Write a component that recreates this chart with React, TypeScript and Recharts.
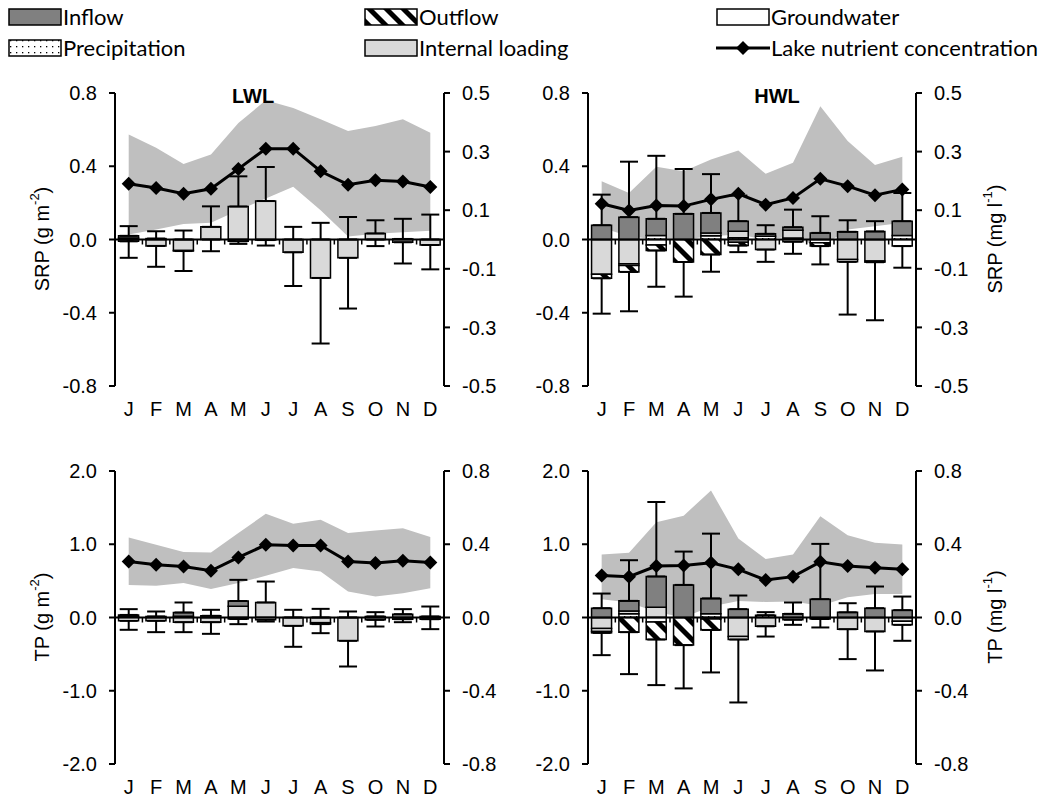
import React from 'react';
import { ComposedChart, Bar, Line, Area, XAxis, YAxis, ErrorBar, ReferenceLine } from 'recharts';

const FONT = "'Liberation Sans', Arial, sans-serif";
const LEGEND_FONT = "Lato, 'Open Sans', sans-serif";

const months = ['Jan', 'Feb', 'Mar', 'Apr', 'May', 'Jun', 'Jul', 'Aug', 'Sep', 'Oct', 'Nov', 'Dec'];
const monthLetters = ['J', 'F', 'M', 'A', 'M', 'J', 'J', 'A', 'S', 'O', 'N', 'D'];

const srpLeftTicks = [-0.8, -0.4, 0, 0.4, 0.8];
const srpRightTicks = [-0.5, -0.3, -0.1, 0.1, 0.3, 0.5];
const tpLeftTicks = [-2, -1, 0, 1, 2];
const tpRightTicks = [-0.8, -0.4, 0, 0.4, 0.8];

// SRP, low water level (LWL)
const srpLwlInflow = [0.012, 0.005, 0, 0, 0, 0, 0, 0, 0, 0, 0.003, 0];
const srpLwlOutflow = [-0.01, 0, -0.003, 0, -0.01, -0.003, 0, 0, 0, 0, 0, 0];
const srpLwlGround = [0, 0, 0, 0, 0, 0, 0, 0, 0, 0, 0, 0];
const srpLwlPrecip = [0, 0, 0, 0, 0, 0, 0, 0, 0, 0, 0, 0];
const srpLwlInternal = [0.008, -0.035, -0.06, 0.069, 0.18, 0.21, -0.07, -0.21, -0.1, 0.033, -0.015, -0.03];
const srpLwlErrHigh = [0.073, 0.045, 0.049, 0.181, 0.345, 0.396, 0.069, 0.091, 0.123, 0.105, 0.113, 0.136];
const srpLwlErrLow = [-0.1, -0.149, -0.172, -0.064, -0.024, -0.033, -0.254, -0.568, -0.377, -0.036, -0.131, -0.163];
const srpLwlBandHigh = [0.358, 0.313, 0.258, 0.29, 0.398, 0.475, 0.449, 0.41, 0.37, 0.387, 0.41, 0.364];
const srpLwlBandLow = [0.017, 0.034, 0.053, 0.057, 0.1, 0.14, 0.18, 0.1, 0.01, 0.02, 0.025, 0.03];
const srpLwlConc = [0.19, 0.176, 0.156, 0.173, 0.241, 0.31, 0.31, 0.233, 0.187, 0.202, 0.198, 0.179];

// SRP, high water level (HWL)
const srpHwlInflow = [0.078, 0.122, 0.091, 0.14, 0.11, 0.055, 0.013, 0.016, 0.036, 0.042, 0.044, 0.078];
const srpHwlOutflow = [-0.022, -0.035, -0.03, -0.123, -0.082, -0.018, 0, 0, -0.018, 0, 0, 0];
const srpHwlGround = [0, -0.01, -0.03, 0, 0, -0.015, 0, -0.012, -0.018, -0.013, -0.006, -0.036];
const srpHwlPrecip = [0, 0, 0.022, 0, 0.02, 0.01, 0.018, 0.008, 0, 0, 0, 0.022];
const srpHwlInternal = [-0.19, -0.132, 0, 0, 0.015, 0.035, -0.055, 0.043, 0, -0.109, -0.118, 0];
const srpHwlErrHigh = [0.245, 0.425, 0.457, 0.385, 0.357, 0.24, 0.078, 0.163, 0.127, 0.105, 0.1, 0.254];
const srpHwlErrLow = [-0.405, -0.392, -0.258, -0.312, -0.176, -0.069, -0.122, -0.078, -0.136, -0.41, -0.441, -0.154];
const srpHwlBandHigh = [0.199, 0.159, 0.248, 0.233, 0.273, 0.304, 0.224, 0.262, 0.455, 0.336, 0.254, 0.282];
const srpHwlBandLow = [0.04, 0.011, 0, 0, 0.011, 0.017, 0, 0.011, -0.028, 0.034, 0.045, 0.057];
const srpHwlConc = [0.122, 0.099, 0.116, 0.114, 0.137, 0.156, 0.119, 0.142, 0.207, 0.182, 0.151, 0.171];

// TP, LWL
const tpLwlInflow = [0.02, 0.014, 0.05, 0.023, 0.07, 0, 0, 0, 0, 0.014, 0.045, 0.014];
const tpLwlOutflow = [0, 0, 0, 0, 0, 0, 0, 0, 0, 0, 0, 0];
const tpLwlGround = [-0.045, 0, 0, 0, -0.02, -0.03, 0, -0.02, 0, 0, 0, 0];
const tpLwlPrecip = [0, 0, 0.018, 0, 0, 0, 0, 0, 0, 0, 0, 0];
const tpLwlInternal = [0.015, -0.045, -0.064, -0.064, 0.155, 0.205, -0.114, -0.07, -0.318, -0.032, -0.023, -0.023];
const tpLwlErrHigh = [0.114, 0.082, 0.205, 0.105, 0.514, 0.491, 0.105, 0.118, 0.082, 0.073, 0.114, 0.15];
const tpLwlErrLow = [-0.168, -0.2, -0.2, -0.223, -0.091, -0.055, -0.4, -0.214, -0.669, -0.123, -0.064, -0.159];
const tpLwlBandHigh = [0.437, 0.397, 0.357, 0.355, 0.461, 0.566, 0.512, 0.534, 0.461, 0.475, 0.488, 0.439];
const tpLwlBandLow = [0.178, 0.173, 0.188, 0.155, 0.188, 0.228, 0.27, 0.251, 0.142, 0.115, 0.133, 0.16];
const tpLwlConc = [0.306, 0.288, 0.279, 0.255, 0.328, 0.397, 0.393, 0.393, 0.306, 0.297, 0.31, 0.3];

// TP, HWL
const tpHwlInflow = [0.127, 0.137, 0.42, 0.445, 0.21, 0.114, 0, 0.05, 0.25, 0.07, 0.127, 0.1];
const tpHwlOutflow = [-0.02, -0.2, -0.24, -0.377, -0.15, 0, 0, 0, 0, 0, 0, 0];
const tpHwlGround = [-0.04, 0, -0.06, 0, -0.02, -0.04, 0, -0.03, -0.02, 0, 0, -0.05];
const tpHwlPrecip = [0, 0.05, 0, 0, 0.05, 0, 0.03, 0, 0, 0, 0, 0];
const tpHwlInternal = [-0.15, 0.04, 0.14, 0, 0, -0.26, -0.12, 0, 0, -0.16, -0.19, -0.05];
const tpHwlErrHigh = [0.327, 0.782, 1.577, 0.9, 1.145, 0.3, 0.073, 0.205, 1.005, 0.195, 0.423, 0.286];
const tpHwlErrLow = [-0.514, -0.773, -0.923, -0.968, -0.75, -1.16, -0.26, -0.1, -0.136, -0.568, -0.723, -0.318];
const tpHwlBandHigh = [0.344, 0.353, 0.52, 0.556, 0.694, 0.431, 0.319, 0.344, 0.553, 0.449, 0.408, 0.399];
const tpHwlBandLow = [0.1, 0.082, 0.03, 0, 0.06, 0.09, 0.085, 0.087, 0.064, 0.11, 0.128, 0.128];
const tpHwlConc = [0.23, 0.223, 0.281, 0.284, 0.299, 0.263, 0.205, 0.223, 0.304, 0.281, 0.272, 0.263];

const COLORS = { inflow: '#808080', internal: '#d9d9d9', band: '#bfbfbf' };

// whiskers are split in an upper part (error top -> stack top) and a lower part
// (stack bottom -> error bottom) so they do not cross the bars
function buildRows(s: any) {
  return months.map((m, i) => {
    const parts = [s.precip[i], s.internal[i], s.ground[i], s.outflow[i], s.inflow[i]];
    const pos = parts.filter((v) => v > 0).reduce((a, b) => a + b, 0);
    const neg = parts.filter((v) => v < 0).reduce((a, b) => a + b, 0);
    return {
      month: m,
      precip: s.precip[i],
      internal: s.internal[i],
      ground: s.ground[i],
      outflow: s.outflow[i],
      inflow: s.inflow[i],
      errTop: s.errHigh[i],
      errTopSpan: [Math.max(s.errHigh[i] - pos, 0), 0],
      errBot: s.errLow[i],
      errBotSpan: [0, Math.max(neg - s.errLow[i], 0)],
      band: [s.bandLow[i], s.bandHigh[i]],
      conc: s.conc[i],
    };
  });
}

const Diamond = (props: any) => {
  const { cx, cy, index } = props;
  if (cx == null || cy == null) return <g key={`d-${index}`} />;
  const r = 7;
  return (
    <polygon key={`d-${index}`} points={`${cx},${cy - r} ${cx + r},${cy} ${cx},${cy + r} ${cx - r},${cy}`} fill="#000" />
  );
};

const ZeroAxis = (props: any) => {
  const { x1, x2, y1 } = props;
  if (x1 == null || x2 == null || y1 == null) return <g />;
  const step = (x2 - x1) / months.length;
  return (
    <g>
      <line x1={x1} x2={x2} y1={y1} y2={y1} stroke="#000" strokeWidth={2} />
      {[...months, ''].map((_, i) => (
        <line key={i} x1={x1 + step * i} x2={x1 + step * i} y1={y1} y2={y1 + 5} stroke="#000" strokeWidth={1.5} />
      ))}
    </g>
  );
};

function Panel({ series, left, top, width, leftW, rightW, leftTicks, rightTicks }: any) {
  const rows = buildRows(series);
  const tickStyle = { fill: '#000', fontSize: 20, fontFamily: FONT };
  const lDom = [leftTicks[0], leftTicks[leftTicks.length - 1]];
  const rDom = [rightTicks[0], rightTicks[rightTicks.length - 1]];
  return (
    <div style={{ position: 'absolute', left, top }}>
      <ComposedChart width={width} height={340} data={rows} stackOffset="sign" barCategoryGap="13%"
        margin={{ top: 13, right: 0, bottom: 0, left: 0 }}>
        <XAxis dataKey="month" height={34} axisLine={false} tickLine={false} interval={0} tickSize={6} tickMargin={10}
          tick={tickStyle} tickFormatter={(v: string) => monthLetters[months.indexOf(v)]} />
        <YAxis yAxisId="l" orientation="left" width={leftW} domain={lDom} ticks={leftTicks} allowDataOverflow
          tickFormatter={(v: number) => v.toFixed(1)} tick={tickStyle} tickSize={6} tickMargin={12}
          axisLine={{ stroke: '#000', strokeWidth: 2 }} tickLine={{ stroke: '#000', strokeWidth: 2 }} />
        <YAxis yAxisId="r" orientation="right" width={rightW} domain={rDom} ticks={rightTicks} allowDataOverflow
          tickFormatter={(v: number) => v.toFixed(1)} tick={tickStyle} tickSize={6} tickMargin={12}
          axisLine={{ stroke: '#000', strokeWidth: 2 }} tickLine={{ stroke: '#000', strokeWidth: 2 }} />
        <Area yAxisId="r" dataKey="band" fill={COLORS.band} fillOpacity={1} stroke="none" isAnimationActive={false} />
        <Bar yAxisId="l" stackId="s" dataKey="precip" fill="url(#dots)" stroke="#000" strokeWidth={1.5} isAnimationActive={false} />
        <Bar yAxisId="l" stackId="s" dataKey="internal" fill={COLORS.internal} stroke="#000" strokeWidth={1.5} isAnimationActive={false} />
        <Bar yAxisId="l" stackId="s" dataKey="ground" fill="#fff" stroke="#000" strokeWidth={1.5} isAnimationActive={false} />
        <Bar yAxisId="l" stackId="s" dataKey="outflow" fill="url(#hatch)" stroke="#000" strokeWidth={1.5} isAnimationActive={false} />
        <Bar yAxisId="l" stackId="s" dataKey="inflow" fill={COLORS.inflow} stroke="#000" strokeWidth={1.5} isAnimationActive={false} />
        <Line yAxisId="l" dataKey="errTop" stroke="none" strokeWidth={0} dot={false} activeDot={false} isAnimationActive={false}>
          <ErrorBar dataKey="errTopSpan" direction="y" width={9} stroke="#000" strokeWidth={2} isAnimationActive={false} />
        </Line>
        <Line yAxisId="l" dataKey="errBot" stroke="none" strokeWidth={0} dot={false} activeDot={false} isAnimationActive={false}>
          <ErrorBar dataKey="errBotSpan" direction="y" width={9} stroke="#000" strokeWidth={2} isAnimationActive={false} />
        </Line>
        <ReferenceLine yAxisId="l" y={0} shape={ZeroAxis} />
        <Line yAxisId="r" dataKey="conc" stroke="#000" strokeWidth={3} dot={Diamond} activeDot={false} isAnimationActive={false} />
      </ComposedChart>
    </div>
  );
}

const Swatch = ({ kind }: { kind: string }) => {
  if (kind === 'line') {
    return (
      <svg width={54} height={20} style={{ display: 'block' }}>
        <line x1={0} x2={54} y1={10} y2={10} stroke="#000" strokeWidth={3} />
        <polygon points="27,3 34,10 27,17 20,10" fill="#000" />
      </svg>
    );
  }
  const fill = kind === 'inflow' ? COLORS.inflow : kind === 'internal' ? COLORS.internal
    : kind === 'outflow' ? 'url(#hatch)' : kind === 'precip' ? 'url(#dots)' : '#fff';
  return (
    <svg width={54} height={20} style={{ display: 'block' }}>
      <rect x={1} y={2} width={52} height={16} fill={fill} stroke="#000" strokeWidth={1.5} />
    </svg>
  );
};

const legendItems = [
  { label: 'Inflow', kind: 'inflow', x: 8, y: 7 },
  { label: 'Outflow', kind: 'outflow', x: 364, y: 7 },
  { label: 'Groundwater', kind: 'ground', x: 716, y: 7 },
  { label: 'Precipitation', kind: 'precip', x: 8, y: 38 },
  { label: 'Internal loading', kind: 'internal', x: 364, y: 38 },
  { label: 'Lake nutrient concentration', kind: 'line', x: 716, y: 38 },
];

const AxisTitle = ({ x, y, main, unit, sup }: any) => (
  <text transform={`translate(${x},${y}) rotate(-90)`} textAnchor="middle" dominantBaseline="central"
    fontSize={20} fontFamily={FONT} fill="#000">
    {main} ({unit}<tspan dy={-8} fontSize={13}>{sup}</tspan><tspan dy={8}>)</tspan>
  </text>
);

export default function App() {
  const srpLwl = { inflow: srpLwlInflow, outflow: srpLwlOutflow, ground: srpLwlGround, precip: srpLwlPrecip, internal: srpLwlInternal, errHigh: srpLwlErrHigh, errLow: srpLwlErrLow, bandHigh: srpLwlBandHigh, bandLow: srpLwlBandLow, conc: srpLwlConc };
  const srpHwl = { inflow: srpHwlInflow, outflow: srpHwlOutflow, ground: srpHwlGround, precip: srpHwlPrecip, internal: srpHwlInternal, errHigh: srpHwlErrHigh, errLow: srpHwlErrLow, bandHigh: srpHwlBandHigh, bandLow: srpHwlBandLow, conc: srpHwlConc };
  const tpLwl = { inflow: tpLwlInflow, outflow: tpLwlOutflow, ground: tpLwlGround, precip: tpLwlPrecip, internal: tpLwlInternal, errHigh: tpLwlErrHigh, errLow: tpLwlErrLow, bandHigh: tpLwlBandHigh, bandLow: tpLwlBandLow, conc: tpLwlConc };
  const tpHwl = { inflow: tpHwlInflow, outflow: tpHwlOutflow, ground: tpHwlGround, precip: tpHwlPrecip, internal: tpHwlInternal, errHigh: tpHwlErrHigh, errLow: tpHwlErrLow, bandHigh: tpHwlBandHigh, bandLow: tpHwlBandLow, conc: tpHwlConc };

  return (
    <div style={{ position: 'absolute', left: 0, top: 0, width: 1049, height: 802, background: '#fff', overflow: 'hidden' }}>
      <svg width={0} height={0} style={{ position: 'absolute' }}>
        <defs>
          <pattern id="hatch" patternUnits="userSpaceOnUse" width={12} height={12} patternTransform="rotate(-45)">
            <rect width={12} height={12} fill="#fff" />
            <rect width={5} height={12} fill="#000" />
          </pattern>
          <pattern id="dots" patternUnits="userSpaceOnUse" width={6} height={6}>
            <rect width={6} height={6} fill="#fff" />
            <rect x={2} y={2} width={1.3} height={1.3} fill="#000" />
          </pattern>
        </defs>
      </svg>

      {legendItems.map((it) => (
        <div key={it.label} style={{ position: 'absolute', left: it.x, top: it.y, display: 'flex', alignItems: 'center', height: 20, whiteSpace: 'nowrap' }}>
          <Swatch kind={it.kind} />
          <span style={{ fontFamily: LEGEND_FONT, fontSize: 22, lineHeight: '20px', color: '#000', marginLeft: 1, whiteSpace: 'nowrap' }}>{it.label}</span>
        </div>
      ))}

      <Panel series={srpLwl} left={0} top={80} width={500} leftW={115} rightW={56} leftTicks={srpLeftTicks} rightTicks={srpRightTicks} />
      <Panel series={srpHwl} left={490} top={80} width={559} leftW={98} rightW={133} leftTicks={srpLeftTicks} rightTicks={srpRightTicks} />
      <Panel series={tpLwl} left={0} top={458} width={500} leftW={115} rightW={56} leftTicks={tpLeftTicks} rightTicks={tpRightTicks} />
      <Panel series={tpHwl} left={490} top={458} width={559} leftW={98} rightW={133} leftTicks={tpLeftTicks} rightTicks={tpRightTicks} />

      <svg width={1049} height={802} style={{ position: 'absolute', left: 0, top: 0, pointerEvents: 'none' }}>
        <text x={253} y={103} textAnchor="middle" fontSize={20} fontWeight="bold" fontFamily={FONT}>LWL</text>
        <text x={777} y={103} textAnchor="middle" fontSize={20} fontWeight="bold" fontFamily={FONT}>HWL</text>
        <AxisTitle x={42} y={239} main="SRP" unit="g m" sup="-2" />
        <AxisTitle x={42} y={617} main="TP" unit="g m" sup="-2" />
        <AxisTitle x={995} y={239} main="SRP" unit="mg l" sup="-1" />
        <AxisTitle x={995} y={617} main="TP" unit="mg l" sup="-1" />
      </svg>
    </div>
  );
}
